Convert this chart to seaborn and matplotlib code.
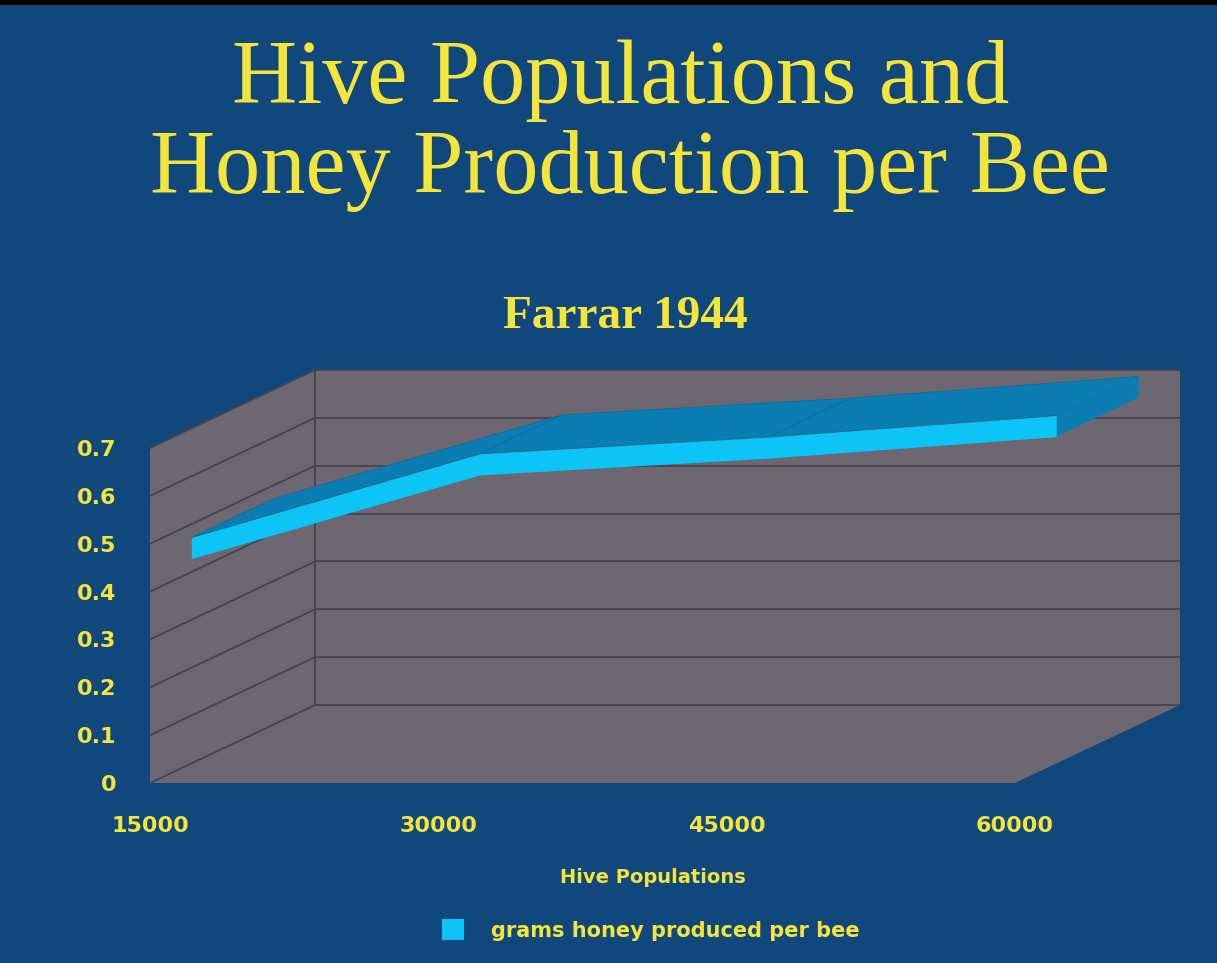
import numpy as np
import pandas as pd
import seaborn as sns
import matplotlib.pyplot as plt
from matplotlib.patches import Polygon, Rectangle, Patch
from matplotlib.transforms import IdentityTransform, ScaledTranslation

# data
populations = [15000, 30000, 45000, 60000]
honey_per_bee = [0.45, 0.625, 0.66, 0.705]
y_ticks = [0, 0.1, 0.2, 0.3, 0.4, 0.5, 0.6, 0.7]
x_ticks = [15000, 30000, 45000, 60000]
series_name = "grams honey produced per bee"

df = pd.DataFrame({"population": populations, "honey": honey_per_bee})

bg = "#10487d"
wall = "#6c6770"
grid_col = "#48444f"
yellow = "#f5e43a"
front_col = "#0cc4f6"
top_col = "#0b7db2"

sns.set_theme(style="white")
plt.rcParams["font.family"] = ["DejaVu Sans"]

fig = plt.figure(figsize=(12.17, 9.63), dpi=100, facecolor=bg)
ax = fig.add_axes([150 / 1217, 180 / 963, 865 / 1217, 335 / 963])
ax.set_xlim(x_ticks[0], x_ticks[-1])
ax.set_ylim(y_ticks[0], y_ticks[-1])
ax.patch.set_visible(False)
for s in ax.spines.values():
    s.set_visible(False)

# fake 3d depth, in pixels
DX, DY = 165, 78
d0, d1 = 0.25, 0.75   # ribbon depth range
t = 0.022             # half thickness of ribbon (data units)


def shifted(d):
    return ax.transData + ScaledTranslation(d * DX / 100, d * DY / 100, fig.dpi_scale_trans)


def disp(x, y, d):
    p = ax.transData.transform(np.column_stack([np.atleast_1d(x), np.atleast_1d(y)]).astype(float))
    p[:, 0] += d * DX
    p[:, 1] += d * DY
    return p


def poly(pts, color, z, ec="none", lw=0):
    ax.add_patch(Polygon(pts, closed=True, facecolor=color, edgecolor=ec, lw=lw,
                         transform=IdentityTransform(), zorder=z, clip_on=False))


xmin, xmax = x_ticks[0], x_ticks[-1]
ymin, ymax = y_ticks[0], y_ticks[-1]

# walls and floor
poly(np.vstack([disp(xmin, ymin, 0), disp(xmin, ymax, 0), disp(xmin, ymax, 1), disp(xmin, ymin, 1)]), wall, 1)
poly(np.vstack([disp(xmin, ymin, 1), disp(xmax, ymin, 1), disp(xmax, ymax, 1), disp(xmin, ymax, 1)]), wall, 1)
poly(np.vstack([disp(xmin, ymin, 0), disp(xmax, ymin, 0), disp(xmax, ymin, 1), disp(xmin, ymin, 1)]), wall, 1)

# gridlines on back wall + left wall
ax.hlines(y_ticks, xmin, xmax, colors=grid_col, lw=1.3, transform=shifted(1), zorder=2, clip_on=False)
for y in y_ticks:
    seg = np.vstack([disp(xmin, y, 0), disp(xmin, y, 1)])
    ax.plot(seg[:, 0], seg[:, 1], color=grid_col, lw=1.3, transform=IdentityTransform(), zorder=2, clip_on=False)
corner = np.vstack([disp(xmin, ymin, 1), disp(xmin, ymax, 1)])
ax.plot(corner[:, 0], corner[:, 1], color=grid_col, lw=1.3, transform=IdentityTransform(), zorder=2, clip_on=False)

# ribbon top face
for i in range(len(populations) - 1):
    xs = populations[i:i + 2]
    ys = [v + t for v in honey_per_bee[i:i + 2]]
    pts = np.vstack([disp(xs, ys, d0), disp(xs[::-1], ys[::-1], d1)])
    poly(pts, top_col, 3, ec="#0a6f9f", lw=0.6)

# right end cap
xe, ve = populations[-1], honey_per_bee[-1]
poly(np.vstack([disp(xe, ve + t, d0), disp(xe, ve - t, d0), disp(xe, ve - t, d1), disp(xe, ve + t, d1)]), top_col, 4)

# front face of the ribbon
ax.fill_between(df["population"], df["honey"] - t, df["honey"] + t, color=front_col, lw=0,
                transform=shifted(d0), zorder=5, clip_on=False)

# axes text
ax.set_xticks(x_ticks)
ax.set_xticklabels([str(v) for v in x_ticks])
ax.set_yticks(y_ticks)
ax.set_yticklabels([f"{v:g}" for v in y_ticks])
ax.tick_params(axis="x", length=0, pad=24, labelsize=16, labelcolor=yellow)
ax.tick_params(axis="y", length=0, pad=24, labelsize=16, labelcolor=yellow)
for lab in ax.get_xticklabels() + ax.get_yticklabels():
    lab.set_fontweight("bold")
ax.set_xlabel("Hive Populations", color=yellow, fontsize=14, fontweight="bold")
ax.xaxis.set_label_coords((653 - 150) / 865, -0.255)
ax.set_ylabel("")

fig.legend(handles=[Patch(facecolor=front_col, edgecolor="none", label=series_name)],
           loc="center", bbox_to_anchor=(651 / 1217, 1 - 930 / 963), frameon=False,
           handlelength=1.05, handleheight=1.15, handletextpad=1.3,
           prop={"weight": "bold", "size": 15}, labelcolor=yellow)

# titles
serif = ["Liberation Serif", "DejaVu Serif"]
fig.text(0.510, 1 - 103 / 963, "Hive Populations and", ha="center", va="baseline",
         color=yellow, fontsize=65, family=serif)
fig.text(0.518, 1 - 193 / 963, "Honey Production per Bee", ha="center", va="baseline",
         color=yellow, fontsize=65, family=serif)
fig.text(0.514, 1 - 328 / 963, "Farrar 1944", ha="center", va="baseline",
         color=yellow, fontsize=34, fontweight="bold", family=serif)

# dark scan edge at the top
fig.patches.append(Rectangle((0, 1 - 5 / 963), 1, 5 / 963, transform=fig.transFigure,
                             facecolor="black", edgecolor="none", zorder=0))

fig.savefig("out.png", dpi=100, facecolor=bg)
